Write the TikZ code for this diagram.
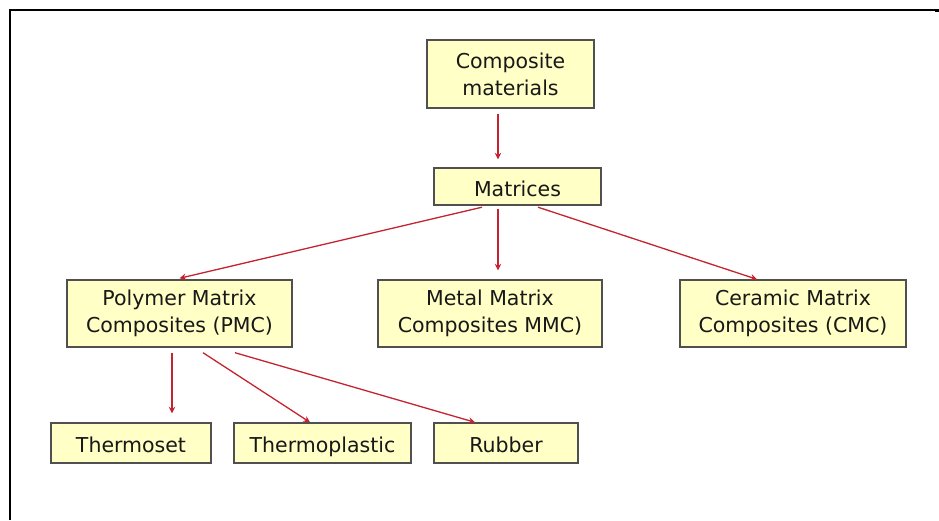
\documentclass[tikz,border=0pt]{standalone}
\usepackage{fontspec}
\setmainfont{DejaVu Sans}
\usetikzlibrary{arrows.meta}
\definecolor{boxfill}{HTML}{FFFFC6}
\definecolor{boxline}{HTML}{505050}
\definecolor{linkred}{HTML}{C42430}
\definecolor{txt}{HTML}{181818}
\begin{document}
\begin{tikzpicture}[x=1pt,y=-1pt,
  box/.style={draw=boxline, line width=1.4pt, fill=boxfill, text=txt,
    inner sep=0pt, align=center,
    font=\fontsize{20.5}{27}\selectfont},
  oneline/.style={text height=20pt, text depth=1pt},
  link/.style={draw=linkred, line width=1.3pt,
    -{Stealth[length=6.5pt,width=6.5pt]}},
  frameline/.style={draw=black, line width=2pt}]
  \useasboundingbox (0,0) rectangle (939,520);
  % frame lines along the top and left
  \coordinate (ftl) at (9.5,9.5);
  \coordinate (ftr) at (935,9.5);
  \coordinate (fbl) at (9.5,520);
  \draw[frameline] (fbl) -- (ftl) -- (ftr);
  \fill[black] (935,9) rectangle (939,11.5);

  % boxes
  \node[box, minimum width=167pt, minimum height=68pt] (comp) at (510.5,74) {Composite\\materials};
  \node[box, oneline, minimum width=167pt, minimum height=37pt] (mat) at (517.5,186.5) {Matrices};
  \node[box, minimum width=225pt, minimum height=67pt] (pmc) at (179.5,313.5) {Polymer Matrix\\Composites (PMC)};
  \node[box, minimum width=224pt, minimum height=67pt] (mmc) at (490,313.5) {Metal Matrix\\Composites MMC)};
  \node[box, minimum width=226pt, minimum height=67pt] (cmc) at (793,313.5) {Ceramic Matrix\\Composites (CMC)};
  \node[box, oneline, minimum width=160pt, minimum height=40pt] (tset) at (131,443) {Thermoset};
  \node[box, oneline, minimum width=177pt, minimum height=40pt] (tplas) at (322.5,443) {Thermoplastic};
  \node[box, oneline, minimum width=144pt, minimum height=40pt] (rub) at (506,443) {Rubber};

  % connectors
  \draw[link] ([xshift=-12.5pt,yshift=-5pt]comp.south) -- ([xshift=-19.5pt,yshift=8pt]mat.north);
  \draw[link] ([xshift=-35.5pt,yshift=-1.5pt]mat.south) -- ([yshift=1pt]pmc.north);
  \draw[link] ([xshift=-19.5pt,yshift=-3pt]mat.south) -- ([xshift=8pt,yshift=9pt]mmc.north);
  \draw[link] ([xshift=20.5pt,yshift=-1.5pt]mat.south) -- ([xshift=-36pt]cmc.north);
  \draw[link] ([xshift=-7.5pt,yshift=-5pt]pmc.south) -- ([xshift=41pt,yshift=9pt]tset.north);
  \draw[link] ([xshift=23.5pt,yshift=-5pt]pmc.south) -- ([xshift=-12.5pt]tplas.north);
  \draw[link] ([xshift=55.5pt,yshift=-5pt]pmc.south) -- ([xshift=-31pt]rub.north);
\end{tikzpicture}
\end{document}
